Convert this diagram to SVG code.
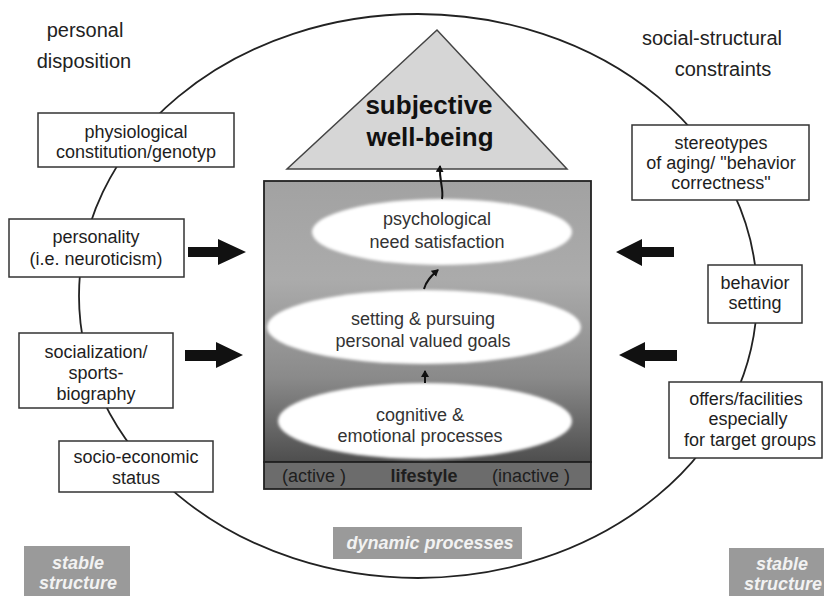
<svg xmlns="http://www.w3.org/2000/svg" width="824" height="596" viewBox="0 0 824 596">
<defs>
<style>
.box{fill:#fff;stroke:#333;stroke-width:1.5}
.t{font-family:"Liberation Sans",Arial,sans-serif;font-size:18px;fill:#1e1e1e;text-anchor:middle}
.h{font-family:"Liberation Sans",Arial,sans-serif;font-size:20px;fill:#222;text-anchor:middle}
.tag{fill:#9a9a9a}
.tw{font-family:"Liberation Sans",Arial,sans-serif;font-size:18px;font-weight:bold;font-style:italic;fill:#f2f2f2;text-anchor:middle}
.blk{fill:#111}
.ell{fill:#fff;filter:url(#soft)}
.small{fill:none;stroke:#111;stroke-width:2;marker-end:url(#ah)}
</style>
<linearGradient id="g" x1="0" y1="0" x2="0" y2="1">
<stop offset="0" stop-color="#a2a2a2"/>
<stop offset="0.35" stop-color="#ababab"/>
<stop offset="0.7" stop-color="#8a8a8a"/>
<stop offset="1" stop-color="#4e4e4e"/>
</linearGradient>
<filter id="soft" x="-10%" y="-20%" width="120%" height="140%"><feGaussianBlur stdDeviation="1.5"/></filter>
<marker id="ah" markerWidth="8" markerHeight="8" refX="6" refY="4" orient="auto" markerUnits="userSpaceOnUse"><path d="M0,0 L7,4 L0,8 Z" fill="#111"/></marker>
</defs>
<rect width="824" height="596" fill="#fff"/>

<g id="connectors">
<ellipse cx="418" cy="296" rx="339" ry="282" fill="none" stroke="#222" stroke-width="1.8"/>
</g>

<g id="personal-disposition"><text class="h" x="85" y="37">personal</text><text class="h" x="84" y="68">disposition</text></g>
<g id="social-structural"><text class="h" x="712" y="45">social-structural</text><text class="h" x="723" y="76">constraints</text></g>

<g id="physiological"><rect class="box" x="38" y="113" width="196" height="54"/><text class="t" x="136" y="138">physiological</text><text class="t" x="136" y="158">constitution/genotyp</text></g>
<g id="personality"><rect class="box" x="9" y="219" width="175" height="58"/><text class="t" x="96" y="243">personality</text><text class="t" x="96" y="265">(i.e. neuroticism)</text></g>
<g id="socialization"><rect class="box" x="19" y="333" width="154" height="75"/><text class="t" x="96" y="358">socialization/</text><text class="t" x="96" y="379">sports-</text><text class="t" x="96" y="400">biography</text></g>
<g id="socio-economic"><rect class="box" x="59" y="441" width="154" height="51"/><text class="t" x="136" y="463">socio-economic</text><text class="t" x="136" y="484">status</text></g>

<g id="stereotypes"><rect class="box" x="632" y="125" width="177" height="75"/><text class="t" x="721" y="149">stereotypes</text><text class="t" x="721" y="169">of aging/ "behavior</text><text class="t" x="721" y="189">correctness"</text></g>
<g id="behavior-setting"><rect class="box" x="708" y="265" width="94" height="58"/><text class="t" x="755" y="289">behavior</text><text class="t" x="755" y="309">setting</text></g>
<g id="offers"><rect class="box" x="669" y="382" width="153" height="76"/><text class="t" x="746" y="405">offers/facilities</text><text class="t" x="748" y="425">especially</text><text class="t" x="750" y="446">for target groups</text></g>

<g id="arrows">
<path class="blk" d="M188,247 H218 V239 L246,252 L218,265 V257 H188 Z"/>
<path class="blk" d="M185,350 H216 V342 L243,355 L216,368 V361 H185 Z"/>
<path class="blk" d="M674,247 H642 V239 L616,252 L642,266 V257 H674 Z"/>
<path class="blk" d="M677,350 H645 V342 L619,355 L645,368 V361 H677 Z"/>
</g>

<g id="subjective-well-being">
<polygon points="437,30 287,169 567,169" fill="#d6d6d6" stroke="#444" stroke-width="1.5"/>
<text class="t" x="429" y="114" style="font-size:26px;font-weight:bold;fill:#111">subjective</text>
<text class="t" x="430" y="146" style="font-size:26px;font-weight:bold;fill:#111">well-being</text>
</g>

<g id="lifestyle">
<rect x="264" y="181" width="327" height="281" fill="url(#g)" stroke="#222" stroke-width="1.8"/>
<rect x="264" y="462" width="327" height="27" fill="#6c6c6c" stroke="#222" stroke-width="1.8"/>
<text class="t" x="314" y="482">(active )</text>
<text class="t" x="424" y="482" style="font-weight:bold">lifestyle</text>
<text class="t" x="531" y="482">(inactive )</text>
</g>

<g id="psychological-need">
<ellipse class="ell" cx="442" cy="232" rx="130" ry="33"/>
<text class="t" x="437" y="225" style="fill:#333">psychological</text>
<text class="t" x="437" y="248" style="fill:#333">need satisfaction</text>
</g>
<g id="setting-goals">
<ellipse class="ell" cx="424" cy="327" rx="157" ry="37"/>
<text class="t" x="423" y="325" style="fill:#333">setting &amp; pursuing</text>
<text class="t" x="423" y="347" style="fill:#333">personal valued goals</text>
</g>
<g id="cognitive">
<ellipse class="ell" cx="425" cy="421" rx="147" ry="38"/>
<text class="t" x="420" y="421" style="fill:#333">cognitive &amp;</text>
<text class="t" x="420" y="442" style="fill:#333">emotional processes</text>
</g>

<g id="small-arrows">
<path class="small" d="M442,199 C444,188 439,182 440,166"/>
<path class="small" d="M424,289 C426,281 431,276 438,270"/>
<path class="small" d="M425,383 L425,371"/>
</g>

<g id="stable-left"><rect class="tag" x="24" y="546" width="106" height="50"/><text class="tw" x="78" y="569">stable</text><text class="tw" x="78" y="589">structure</text></g>
<g id="stable-right"><rect class="tag" x="729" y="548" width="95" height="48"/><text class="tw" x="782" y="570">stable</text><text class="tw" x="783" y="590">structure</text></g>
<g id="dynamic"><rect class="tag" x="333" y="527" width="189" height="32"/><text class="tw" x="430" y="549">dynamic processes</text></g>
</svg>
